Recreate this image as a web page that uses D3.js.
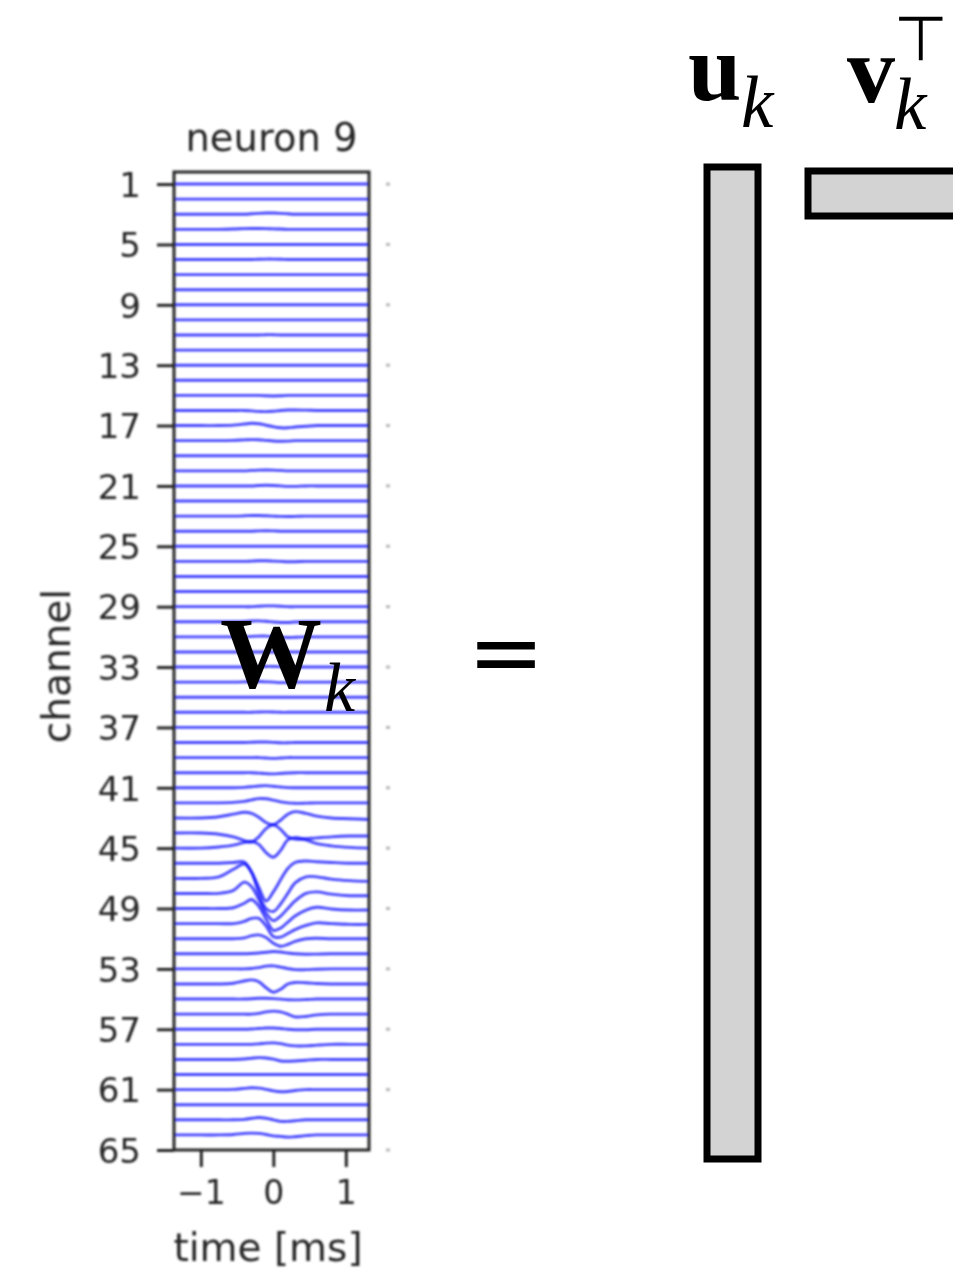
<!DOCTYPE html>
<html><head><meta charset="utf-8">
<script src="https://cdn.jsdelivr.net/npm/d3@7"></script>
<style>body{margin:0;background:#fff}svg{display:block}</style>
</head><body>
<svg id="c" width="953" height="1271"></svg>
<script>
// ---- data ----
const timeMs = [-1.37,-1.0,-0.75,-0.55,-0.4,-0.3,-0.2,-0.1,0,0.1,0.2,0.3,0.45,0.6,0.8,1.05,1.32];
const channelTicks = [1,5,9,13,17,21,25,29,33,37,41,45,49,53,57,61,65];
const timeTicks = [-1,0,1];
const timeTickLabels = ["\u22121","0","1"];
const titleText = "neuron 9";
// deflection of each channel's trace, in units of channel spacing (positive = up)
const waveforms = [
/* 1*/[0,0,0,0,0,0,0,0,0,0,0,0,0,0,0,0,0],
/* 2*/[0,0,0,0,0,0,0,0,0,0,0,0,0,0,0,0,0],
/* 3*/[0,0,0,0,0,0.03,0.06,0.08,0.08,0.06,0.03,0,0,0,0,0,0],
/* 4*/[0,0,0,0.02,0.05,0.06,0.06,0.05,0.03,0.02,0,0,0,0,0,0,0],
/* 5*/[0,0,0,0,0,0,0,0,0,0,0,0,0,0,0,0,0],
/* 6*/[0,0,0,0,0,0,0.02,0.03,0.03,0.02,0,0,0,0,0,0,0],
/* 7*/[0,0,0,0,0,0,0,0,0,0,0,0,0,0,0,0,0],
/* 8*/[0,0,0,0,0,0,0,0,0,0,0,0,0,0,0,0,0],
/* 9*/[0,0,0,0,0,0,0,0,0,0,0,0,0,0,0,0,0],
/*10*/[0,0,0,0,0,0,0,0,0,0,0,0,0,0,0,0,0],
/*11*/[0,0,0,0,0,0,0,0.02,0.02,0,0,0,0,0,0,0,0],
/*12*/[0,0,0,0,0,0,0,0,0,0,0,0,0,0,0,0,0],
/*13*/[0,0,0,0,0,0,0,0,0,0,0,0,0,0,0,0,0],
/*14*/[0,0,0,0,0,0,0,0,0,0,0,0,0,0,0,0,0],
/*15*/[0,0,0,0,0,0,0,-0.03,-0.04,-0.03,0,0,0,0,0,0,0],
/*16*/[0,0,0,0,0,-0.03,-0.06,-0.08,-0.05,0,0.03,0.03,0.02,0,0,0,0],
/*17*/[0,0,0,0.03,0.1,0.15,0.12,0.02,-0.08,-0.15,-0.15,-0.1,-0.05,0,0,0,0],
/*18*/[0,0,0,0.02,0.05,0.07,0.06,0.02,-0.02,-0.04,-0.03,0,0,0,0,0,0],
/*19*/[0,0,0,0,0,0,0,0,0,0,0,0,0,0,0,0,0],
/*20*/[0,0,0,0,0,0.03,0.05,0.06,0.05,0.03,0,0,0,0,0,0,0],
/*21*/[0,0,0,0,0,0,0.03,0.04,0.03,0,-0.03,-0.03,0,0,0,0,0],
/*22*/[0,0,0,0,0,0,0,0,0,0,0,0,0,0,0,0,0],
/*23*/[0,0,0,0,0.02,0.04,0.04,0.02,0,-0.02,-0.03,-0.02,0,0,0,0,0],
/*24*/[0,0,0,0,0,0,0.02,0.03,0.02,0,0,0,0,0,0,0,0],
/*25*/[0,0,0,0,0,0,0,0,0,0,0,0,0,0,0,0,0],
/*26*/[0,0,0,0,0,0.02,0.04,0.04,0.02,0,-0.02,-0.02,0,0,0,0,0],
/*27*/[0,0,0,0,0,0,0,0,0,0,0,0,0,0,0,0,0],
/*28*/[0,0,0,0,0,0,0,0,0,0,0,0,0,0,0,0,0],
/*29*/[0,0,0,0,0,0,0.03,0.05,0.05,0.03,0,0,0,0,0,0,0],
/*30*/[0,0,0,0,0.02,0.05,0.06,0.03,-0.02,-0.05,-0.05,-0.02,0,0,0,0,0],
/*31*/[0,0,0,0,0,0.03,0.05,0.05,0.02,-0.02,-0.04,-0.03,0,0,0,0,0],
/*32*/[0,0,0,0,0,0,0,0,0,0,0,0,0,0,0,0,0],
/*33*/[0,0,0,0,0,0,0.02,0.04,0.04,0.02,0,0,0,0,0,0,0],
/*34*/[0,0,0,0,0.02,0.04,0.04,0.02,0,-0.03,-0.03,0,0,0,0,0,0],
/*35*/[0,0,0,0,0,0,0,0,0,0,0,0,0,0,0,0,0],
/*36*/[0,0,0,0,0,0,0.02,0.03,0.02,0,0,0,0,0,0,0,0],
/*37*/[0,0,0,0,0,0,0,0,0,0,0,0,0,0,0,0,0],
/*38*/[0,0,0,0,0,0.02,0.03,0.03,0.01,-0.02,-0.02,0,0,0,0,0,0],
/*39*/[0,0,0,0,0,0,0,-0.03,-0.05,-0.03,0,0,0,0,0,0,0],
/*40*/[0,0,0,0,0,0,-0.03,-0.06,-0.08,-0.05,-0.02,0,0,0,0,0,0],
/*41*/[0,0,0,0,0.03,0.07,0.12,0.14,0.1,0.05,0.01,0,0,0,0,0,0],
/*42*/[0,0,0,0.03,0.1,0.2,0.28,0.27,0.18,0.07,0,-0.03,-0.02,0,0,0,0],
/*43*/[0,0,0.08,0.25,0.38,0.3,0.05,-0.3,-0.45,-0.15,0.25,0.42,0.3,0.12,0,-0.05,-0.1],
/*44*/[0,0,-0.08,-0.25,-0.5,-0.6,-0.25,0.3,0.55,0.25,-0.25,-0.4,-0.38,-0.32,-0.25,-0.2,-0.2],
/*45*/[0,0,0.08,0.2,0.38,0.45,0.25,-0.3,-0.6,-0.15,0.55,0.7,0.55,0.3,0.15,0.05,0],
/*46*/[0,0,0,0.05,0.08,-0.6,-1.6,-2.5,-1.9,-1.1,-0.35,0.05,0.15,0.1,0.05,0,0],
/*47*/[0,0,0.1,0.6,0.95,0.4,-1.0,-2.0,-2.2,-1.7,-1.0,-0.3,0.1,0.1,-0.05,-0.15,-0.2],
/*48*/[0,0,0,0.2,0.75,0.45,-0.4,-1.3,-1.8,-1.5,-1.0,-0.5,0.0,0.1,-0.05,-0.15,-0.15],
/*49*/[0,0,0,0.05,0.35,0.6,0.15,-0.7,-1.45,-1.3,-0.9,-0.5,-0.1,0.08,-0.03,-0.1,-0.1],
/*50*/[0,0,0,0,0.15,0.35,0.35,-0.15,-0.85,-0.9,-0.65,-0.4,-0.12,0.05,0,-0.05,-0.05],
/*51*/[0,0,0,0,0.05,0.2,0.25,0.08,-0.3,-0.5,-0.38,-0.18,0,0.03,0,0,0],
/*52*/[0,0,0,0,0,0.02,0.05,0.1,0.15,0.12,0.05,0,-0.03,-0.02,0,0,0],
/*53*/[0,0,0,0,0,0.03,0.08,0.18,0.2,0.12,0.02,-0.05,-0.05,-0.02,0,0,0],
/*54*/[0,0,0,0.05,0.2,0.27,0.15,-0.25,-0.55,-0.35,0,0.1,0.08,0.03,0,0,0],
/*55*/[0,0,0,0,0,0.02,0.05,0.05,0.03,0,-0.04,-0.05,-0.03,0,0,0,0],
/*56*/[0,0,0,0,0,0,0.05,0.15,0.2,0.15,0,-0.18,-0.15,-0.05,0,0,0],
/*57*/[0,0,0,0,0,0.02,0.05,0.08,0.08,0.05,0,-0.03,-0.03,0,0,0,0],
/*58*/[0,0,0,0,0,0,0.03,0.08,0.1,0.05,-0.05,-0.1,-0.1,-0.05,0,0,0],
/*59*/[0,0,0,0,0.03,0.08,0.12,0.1,0.02,-0.1,-0.12,-0.1,-0.05,0,0,0,0],
/*60*/[0,0,0,0,0,0,0,0,0,0,0,0,0,0,0,0,0],
/*61*/[0,0,0,0.02,0.08,0.12,0.1,0.02,-0.08,-0.14,-0.12,-0.06,0,0,0,0,0],
/*62*/[0,0,0,0,0,0,0,0,0,0,0,0,0,0,0,0,0],
/*63*/[0,0,0,0,0.03,0.1,0.15,0.1,0,-0.1,-0.1,-0.06,0,0,0,0,0],
/*64*/[0,0,0,0.03,0.1,0.12,0.1,0.03,-0.06,-0.1,-0.15,-0.12,-0.05,0,0,0,0]
];

// ---- layout ----
const svg = d3.select("#c");
const box = {left:174, right:369, top:172, bottom:1150};
const x = d3.scaleLinear().domain([-1.37, 1.32]).range([box.left, box.right]);
const y = d3.scaleLinear().domain([0.2, 65]).range([box.top, box.bottom]);
const ink = "#262626";
const sans = "'DejaVu Sans', sans-serif";
const serif = "'Liberation Serif', 'Times New Roman', serif";

const defs = svg.append("defs");
defs.append("filter").attr("id","soft").attr("x","-5%").attr("y","-5%").attr("width","110%").attr("height","110%")
  .append("feGaussianBlur").attr("stdDeviation", 0.8);
defs.append("clipPath").attr("id","clip").append("rect")
  .attr("x", box.left).attr("y", box.top).attr("width", box.right-box.left).attr("height", box.bottom-box.top);

const chart = svg.append("g").attr("filter","url(#soft)");

// traces
const line = d3.line()
  .x((d,i) => x(timeMs[i]))
  .curve(d3.curveCatmullRom.alpha(0.5));
chart.append("g").attr("clip-path","url(#clip)")
  .selectAll("path").data(waveforms).join("path")
  .attr("d", (w,ci) => line.y((v) => y(ci + 1 - v))(w))
  .attr("fill","none").attr("stroke","#0505ff").attr("stroke-opacity",0.72).attr("stroke-width",2.9);

// frame
chart.append("rect").attr("x",box.left).attr("y",box.top)
  .attr("width",box.right-box.left).attr("height",box.bottom-box.top)
  .attr("fill","none").attr("stroke",ink).attr("stroke-width",3);

// y axis
const yAxis = d3.axisLeft(y).tickValues(channelTicks).tickSize(17).tickPadding(16);
const gy = chart.append("g").attr("transform",`translate(${box.left},0)`).call(yAxis);
gy.select(".domain").remove();
gy.selectAll(".tick line").attr("stroke",ink).attr("stroke-width",3);
gy.selectAll(".tick text").attr("fill",ink).attr("font-family",sans).attr("font-size",34).attr("dy","0.36em");

// x axis
const xAxis = d3.axisBottom(x).tickValues(timeTicks).tickFormat((d,i)=>timeTickLabels[i]).tickSize(17).tickPadding(14);
const gx = chart.append("g").attr("transform",`translate(0,${box.bottom})`).call(xAxis);
gx.select(".domain").remove();
gx.selectAll(".tick line").attr("stroke",ink).attr("stroke-width",3);
gx.selectAll(".tick text").attr("fill",ink).attr("font-family",sans).attr("font-size",33);

// faint ticks of a neighbouring axis at the right
chart.append("g").selectAll("line").data(channelTicks).join("line")
  .attr("x1",386).attr("x2",390).attr("y1",d=>y(d)).attr("y2",d=>y(d))
  .attr("stroke","#b8b8b8").attr("stroke-width",3);

// labels
chart.append("text").text(titleText).attr("x",(box.left+box.right)/2).attr("y",151)
  .attr("text-anchor","middle").attr("font-family",sans).attr("font-size",38.5).attr("fill",ink);
chart.append("text").text("time [ms]").attr("x",268).attr("y",1261)
  .attr("text-anchor","middle").attr("font-family",sans).attr("font-size",39).attr("fill",ink);
chart.append("text").text("channel").attr("transform","translate(70,666) rotate(-90)")
  .attr("text-anchor","middle").attr("font-family",sans).attr("font-size",39).attr("fill",ink);

// ---- equation overlay ----
const eq = svg.append("g");
eq.append("text").text("W").attr("x",220).attr("y",688).attr("font-family",serif)
  .attr("font-weight","bold").attr("font-size",102);
eq.append("text").text("k").attr("x",324).attr("y",711).attr("font-family",serif)
  .attr("font-style","italic").attr("font-size",70);

eq.append("text").text("=").attr("x",506).attr("y",684).attr("text-anchor","middle")
  .attr("font-family",sans).attr("font-size",92);

eq.append("text").text("u").attr("x",688).attr("y",100).attr("font-family",serif)
  .attr("font-weight","bold").attr("font-size",96);
eq.append("text").text("k").attr("x",741).attr("y",127).attr("font-family",serif)
  .attr("font-style","italic").attr("font-size",73);
eq.append("text").text("v").attr("x",847).attr("y",102).attr("font-family",serif)
  .attr("font-weight","bold").attr("font-size",96);
eq.append("text").text("k").attr("x",894).attr("y",129).attr("font-family",serif)
  .attr("font-style","italic").attr("font-size",73);
eq.append("text").text("\u22A4").attr("x",921).attr("y",60).attr("text-anchor","middle")
  .attr("font-family",sans).attr("font-size",62);

// factor rectangles
eq.append("rect").attr("x",707).attr("y",167).attr("width",51).attr("height",992)
  .attr("fill","#d3d3d3").attr("stroke","#000").attr("stroke-width",7);
eq.append("rect").attr("x",808).attr("y",171).attr("width",170).attr("height",45)
  .attr("fill","#d3d3d3").attr("stroke","#000").attr("stroke-width",7);
</script>
</body></html>
